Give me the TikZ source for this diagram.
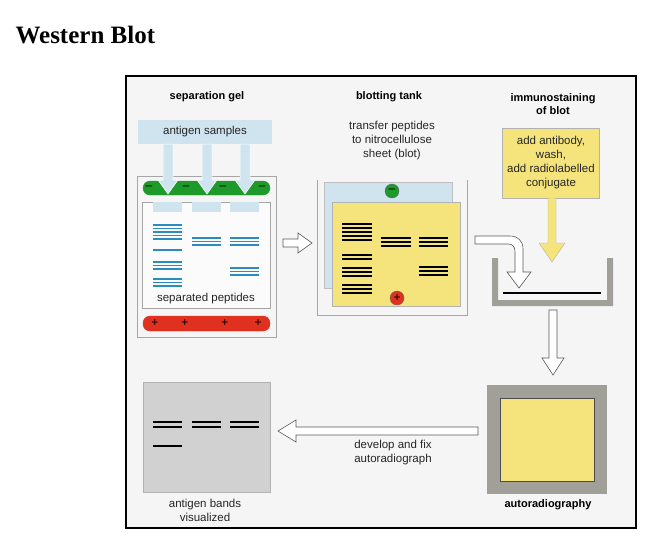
\documentclass[tikz,border=0pt]{standalone}
\usepackage{fontspec}
\setmainfont{Liberation Sans}
\newfontfamily\titlefont{Liberation Serif}
\begin{document}
\begin{tikzpicture}[x=1pt,y=-1pt,
  lbl/.style={font=\fontsize{11.5}{14}\selectfont,align=center,text=black!85},
  hd/.style={font=\bfseries\fontsize{11}{13.5}\selectfont,align=center},
  bb/.style={line width=1.4pt,draw=bandblue},
  kb/.style={line width=1.8pt,draw=black},
  sign/.style={font=\fontsize{12}{12}\selectfont,text=black},
  hollow/.style={draw=gray!70!black,fill=white,line width=0.6pt},
  frame/.style={draw=gray!70,line width=0.8pt}]
\definecolor{bandblue}{HTML}{2A8CC0}
\definecolor{lblue}{HTML}{CFE4EF}
\definecolor{ygel}{HTML}{F5E47C}
\definecolor{gpill}{HTML}{1E9A2A}
\definecolor{rpill}{HTML}{E03020}
\definecolor{tray}{HTML}{A0A098}
\useasboundingbox (0,0) rectangle (669,547);
\node[anchor=west,font=\titlefont\bfseries\fontsize{25}{30}\selectfont] (title) at (12,35) {Western Blot};
\draw[line width=2pt,fill=black!4] (126,76) rectangle (636,528);
\node[hd] (h1) at (207,97) {separation gel};
\node[hd] (h2) at (389,97) {blotting tank};
\node[hd] (h3) at (553,104) {immunostaining\\of blot};
% gel
\draw[frame] (137,176) rectangle (276,337);
\draw[frame,fill=white!60!black!4] (142,202) rectangle (270,308);
\foreach \x in {153,192,230} \fill[lblue] (\x,202) rectangle (\x+29,212);
\draw[gpill,fill=gpill,rounded corners=7pt] (143,181) rectangle (270,195);
\foreach \x in {149,186,223,262} \node[sign] at (\x,188) {–};
\node[lbl,fill=lblue,minimum width=134pt,minimum height=24pt] (samples) at (205,132) {antigen samples};
\foreach \x in {168,207,245}
  \fill[lblue,draw=white,line width=0.5pt] (\x-5,144) -- (\x+5,144) -- (\x+5,180) -- (\x+10,180) -- (\x,194) -- (\x-10,180) -- (\x-5,180) -- cycle;
\foreach \y in {225,228.5,232,235.5,239,250,262,265.5,269,279,282.5,286} \draw[bb] (153,\y) -- (182,\y);
\foreach \y in {238,241.5,245} {\draw[bb] (192,\y) -- (221,\y); \draw[bb] (230,\y) -- (259,\y);}
\foreach \y in {268,271.5,275} \draw[bb] (230,\y) -- (259,\y);
\node[lbl] (sep) at (206,299) {separated peptides};
\draw[rpill,fill=rpill,rounded corners=7pt] (143,316) rectangle (270,331);
\foreach \x in {155,185,225,258} \node[sign] at (\x,323) {+};
% arrow right
\draw[hollow] (283,239) -- (298,239) -- (298,233) -- (312,243) -- (298,253) -- (298,247) -- (283,247) -- cycle;
% blotting tank
\node[lbl] (transfer) at (392,141) {transfer peptides\\to nitrocellulose\\sheet (blot)};
\draw[frame] (317,180) -- (317,315) -- (467,315) -- (467,180);
\fill[lblue,draw=gray!50] (324,182) rectangle (452,288);
\fill[ygel,draw=gray!60] (332,202) rectangle (460,306);
\node[circle,fill=gpill,draw=black!60,inner sep=0pt,minimum size=14pt,sign] (minus) at (392,191) {–};
\node[circle,fill=rpill,draw=black!60,inner sep=0pt,minimum size=14pt,sign] (plus) at (397,298) {+};
\foreach \y in {224,228,232,236,240,255,259,268,272,276,285,289,293} \draw[kb] (342,\y) -- (372,\y);
\foreach \y in {238,242,246} {\draw[kb] (381,\y) -- (411,\y); \draw[kb] (419,\y) -- (448,\y);}
\foreach \y in {267,271,275} \draw[kb] (419,\y) -- (448,\y);
% bent hollow arrow
\draw[hollow] (475,236) -- (510,236) .. controls (518,236) and (523,241) .. (523,249) -- (523,272) -- (531,272) -- (519,288) -- (507,272) -- (515,272) -- (515,252) .. controls (515,247) and (513,244) .. (508,244) -- (475,244) -- cycle;
% immunostaining
\node[lbl,fill=ygel,draw=gray!60,minimum width=97pt,minimum height=70pt] (ab) at (551,163) {add antibody,\\wash,\\add radiolabelled\\conjugate};
\fill[ygel,draw=gray!60] (548,198) -- (556,198) -- (556,243) -- (565,243) -- (552,262) -- (539,243) -- (548,243) -- cycle;
\fill[tray] (492,258) rectangle (498,306) (607,258) rectangle (613,306) (492,300) rectangle (613,306);
\draw[line width=1.5pt] (503,293) -- (601,293);
% arrow down
\draw[hollow] (549,310) -- (557,310) -- (557,358) -- (564,358) -- (553,375) -- (542,358) -- (549,358) -- cycle;
% autoradiography
\fill[tray] (487,385) rectangle (607,494);
\fill[ygel,draw=black!70,line width=0.8pt] (500,398) rectangle (594,481);
\node[hd] (auto) at (548,505) {autoradiography};
% arrow left
\draw[hollow] (478,427) -- (296,427) -- (296,420) -- (278,431) -- (296,442) -- (296,435) -- (478,435) -- cycle;
\node[lbl] (dev) at (393,453) {develop and fix\\autoradiograph};
% film
\fill[black!18,draw=gray!60] (143,382) rectangle (270,492);
\foreach \x in {153,192,230} {\draw[kb] (\x,422) -- (\x+29,422); \draw[kb] (\x,427) -- (\x+29,427);}
\draw[line width=1.2pt] (153,446) -- (182,446);
\node[lbl] (vis) at (205,510) {antigen bands\\visualized};
\end{tikzpicture}
\end{document}
